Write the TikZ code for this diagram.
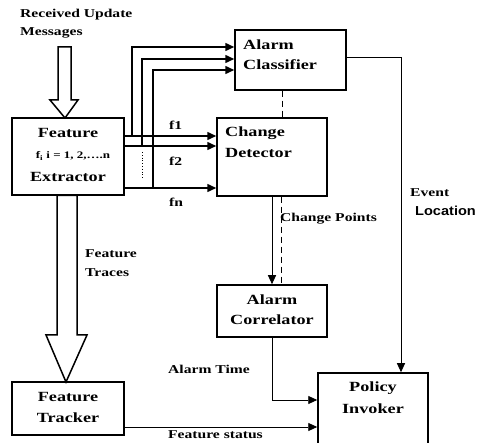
\documentclass[tikz,border=0pt]{standalone}
\usepackage{fontspec}
\setmainfont{Liberation Serif}[FakeStretch=1.3]
\newfontfamily\labsans{Liberation Sans}[FakeStretch=1.12]
\usetikzlibrary{arrows.meta}
\begin{document}
\begin{tikzpicture}[x=1pt,y=-1pt,
  box/.style={draw,line width=1.5pt,rectangle,inner sep=0pt},
  boxtext/.style={font=\bfseries\fontsize{14}{17}\selectfont,align=center,inner sep=0pt},
  lab/.style={font=\bfseries\fontsize{12}{14}\selectfont,inner sep=0pt,anchor=west},
  thick arr/.style={line width=1.5pt,-{Triangle[length=9pt,width=8pt]}},
  thin arr/.style={line width=0.9pt,-{Triangle[length=9pt,width=8pt]}},
  hollow/.style={draw,line width=1.5pt,fill=white,line join=miter}]
\useasboundingbox (0,0) rectangle (480,443);
% boxes
\node[box,minimum width=112pt,minimum height=77pt] (FE) at (68,156.5) {};
\node[box,minimum width=111pt,minimum height=60pt] (AC) at (290.5,60) {};
\node[box,minimum width=110pt,minimum height=78pt] (CD) at (272,157) {};
\node[box,minimum width=110pt,minimum height=52pt] (ACo) at (272,311) {};
\node[box,minimum width=112pt,minimum height=53pt] (FT) at (68,408.5) {};
\node[box,minimum width=110pt,minimum height=80pt] (PI) at (373,413) {};
% box texts
\node[boxtext] (feT1) at (68,133) {Feature};
\node[boxtext,font=\bfseries\fontsize{10}{12}\selectfont] (feT2) at (73,156) {f\textsubscript{i} i = 1, 2,\ldots.n};
\node[boxtext] (feT3) at (68,177) {Extractor};
\node[boxtext,anchor=west] (acT1) at (243,45) {Alarm};
\node[boxtext,anchor=west] (acT2) at (243,65) {Classifier};
\node[boxtext,anchor=west] (cdT1) at (225,133) {Change};
\node[boxtext,anchor=west] (cdT2) at (225,153) {Detector};
\node[boxtext] (acoT1) at (272,300) {Alarm};
\node[boxtext] (acoT2) at (272,320) {Correlator};
\node[boxtext] (ftT1) at (68,397) {Feature};
\node[boxtext] (ftT2) at (68,418) {Tracker};
\node[boxtext] (piT1) at (373,388) {Policy};
\node[boxtext] (piT2) at (373,409) {Invoker};
% hollow arrows
\draw[hollow] (58,47) -- (71,47) -- (71,100) -- (78,100) -- (65,118) -- (50,100) -- (58,100) -- cycle;
\draw[hollow] (57,195.5) -- (77,195.5) -- (77,335) -- (87,335) -- (66,382) -- (46,335) -- (57,335) -- cycle;
% feature lines
\coordinate (y1) at (0,136);
\coordinate (y2) at (0,146);
\coordinate (yn) at (0,188);
\coordinate (a1) at (0,47);
\coordinate (a2) at (0,59);
\coordinate (an) at (0,70);
\coordinate (b1) at (132,136);
\coordinate (b2) at (142,146);
\coordinate (bn) at (153,188);
\draw[thick arr] (FE.east |- y1) -- (CD.west |- y1);
\draw[thick arr] (FE.east |- y2) -- (CD.west |- y2);
\draw[thick arr] (FE.east |- yn) -- (CD.west |- yn);
\draw[thick arr] (b1) -- (b1 |- a1) -- (AC.west |- a1);
\draw[thick arr] (b2) -- (b2 |- a2) -- (AC.west |- a2);
\draw[thick arr] (bn) -- (bn |- an) -- (AC.west |- an);
\coordinate (d1) at (142,152);
\coordinate (d2) at (142,178);
\draw[line width=0.8pt,dotted] (d1) -- (d2);
% dashed links
\coordinate (dx) at (282,0);
\draw[line width=1pt,dash pattern=on 6pt off 4pt] (AC.south -| dx) -- (CD.north -| dx);
\coordinate (ex) at (281,0);
\draw[line width=1pt,dash pattern=on 6pt off 4pt] (CD.south -| ex) -- (ACo.north -| ex);
\draw[thin arr] (CD.south) -- (ACo.north);
% event location
\coordinate (ev) at (401,57);
\draw[thin arr] (AC.east |- ev) -- (ev) -- (PI.north -| ev);
% alarm time
\coordinate (at) at (272,400);
\draw[thin arr] (ACo.south) -- (at) -- (PI.west |- at);
% feature status
\coordinate (fs) at (0,427);
\draw[thin arr] (FT.east |- fs) -- (PI.west |- fs);
% labels
\node[lab] (l1) at (20,15) {Received Update};
\node[lab] (l2) at (20,33) {Messages};
\node[lab] (f1) at (169,125) {f1};
\node[lab] (f2) at (169,161) {f2};
\node[lab] (fn) at (169,202) {fn};
\node[lab] (cp) at (280,219) {Change Points};
\node[lab] (ev1) at (410,193) {Event};
\node[lab,font=\labsans\bfseries\fontsize{13}{15}\selectfont] (ev2) at (415,211) {Location};
\node[lab] (tr1) at (85,254) {Feature};
\node[lab] (tr2) at (85,273) {Traces};
\node[lab] (atl) at (168,369) {Alarm Time};
\node[lab,anchor=base west] (fsl) at (168,439) {Feature status};
\end{tikzpicture}
\end{document}
